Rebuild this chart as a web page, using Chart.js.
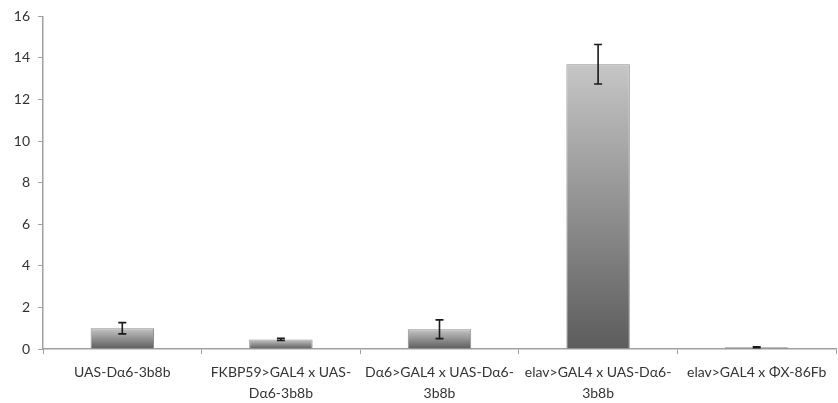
<!DOCTYPE html>
<html>
<head>
<meta charset="utf-8">
<script src="https://cdn.jsdelivr.net/npm/chart.js@4"></script>
<style>
  html, body { margin: 0; padding: 0; background: #fff; }
  #wrap { width: 838px; height: 403px; }
</style>
</head>
<body>
<div id="wrap"><canvas id="c" width="838" height="403"></canvas></div>
<script>
// Genotypes on the x axis (wrapped onto two lines where long)
const categories = [
  ['UAS-Dα6-3b8b'],
  ['FKBP59>GAL4 x UAS-', 'Dα6-3b8b'],
  ['Dα6>GAL4 x UAS-Dα6-', '3b8b'],
  ['elav>GAL4 x UAS-Dα6-', '3b8b'],
  ['elav>GAL4 x ΦX-86Fb']
];
// Mean relative expression and its error (±)
const means = [1.0, 0.46, 0.95, 13.7, 0.08];
const errors = [0.27, 0.05, 0.45, 0.95, 0.02];
// Y axis range and step
const yMin = 0, yMax = 16, yStep = 2;

const textColor = '#333333';
const axisColor = '#a0a0a0';
const font = { family: 'Lato, "Open Sans", sans-serif', size: 14 };

// Vertical grey gradient for each bar, light at the top, dark at the base
function barGradient(context) {
  const chart = context.chart;
  const y = chart.scales && chart.scales.y;
  if (!y || context.dataIndex === undefined) return '#999';
  const top = y.getPixelForValue(means[context.dataIndex]);
  const base = y.getPixelForValue(0);
  if (!isFinite(top) || !isFinite(base) || base - top < 1) return '#888';
  const g = chart.ctx.createLinearGradient(0, top, 0, base);
  g.addColorStop(0, '#c6c6c6');
  g.addColorStop(1, '#5c5c5c');
  return g;
}

// Draws the ± error whiskers on top of each bar
const errorBars = {
  id: 'errorBars',
  afterDatasetsDraw(chart) {
    const meta = chart.getDatasetMeta(0);
    const y = chart.scales.y;
    const ctx = chart.ctx;
    ctx.save();
    ctx.strokeStyle = '#1a1a1a';
    ctx.lineWidth = 1.6;
    meta.data.forEach((bar, i) => {
      const x = bar.x;
      const hi = y.getPixelForValue(means[i] + errors[i]);
      const lo = y.getPixelForValue(means[i] - errors[i]);
      const cap = 4;
      ctx.beginPath();
      ctx.moveTo(x, hi); ctx.lineTo(x, lo);
      ctx.moveTo(x - cap, hi); ctx.lineTo(x + cap, hi);
      ctx.moveTo(x - cap, lo); ctx.lineTo(x + cap, lo);
      ctx.stroke();
    });
    ctx.restore();
  }
};

new Chart(document.getElementById('c'), {
  type: 'bar',
  data: {
    labels: categories,
    datasets: [{
      data: means,
      backgroundColor: barGradient,
      borderColor: '#8e8e8e',
      borderWidth: 1,
      categoryPercentage: 1,
      barPercentage: 0.4
    }]
  },
  options: {
    responsive: false,
    animation: false,
    layout: { padding: { top: 8, right: 2, left: 0, bottom: 0 } },
    plugins: { legend: { display: false }, tooltip: { enabled: false } },
    scales: {
      x: {
        grid: {
          offset: true,
          drawOnChartArea: false,
          drawTicks: true,
          tickLength: 5,
          color: axisColor
        },
        border: { color: axisColor, width: 1.5 },
        ticks: {
          color: textColor,
          font: Object.assign({}, font, { lineHeight: 1.5 }),
          padding: 8,
          maxRotation: 0,
          autoSkip: false
        },
        afterFit(scale) { scale.height = 54; }
      },
      y: {
        min: yMin,
        max: yMax,
        grid: {
          drawOnChartArea: false,
          drawTicks: true,
          tickLength: 5,
          color: axisColor
        },
        border: { color: axisColor, width: 1.5 },
        ticks: {
          stepSize: yStep,
          color: textColor,
          font: font,
          padding: 8
        },
        afterFit(scale) { scale.width = 43; }
      }
    }
  },
  plugins: [errorBars]
});
</script>
</body>
</html>
